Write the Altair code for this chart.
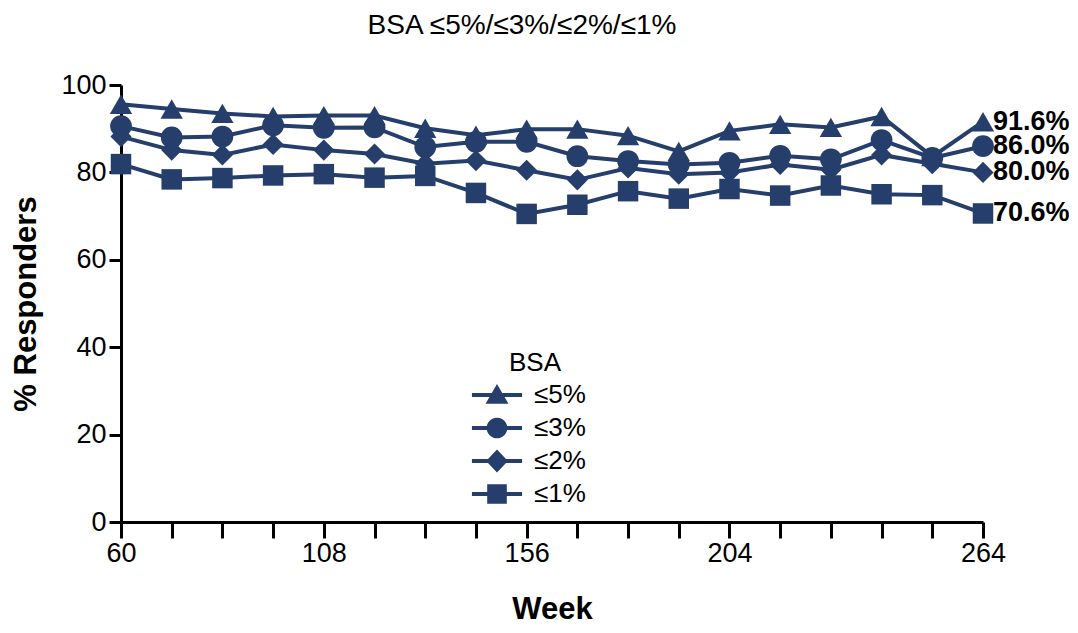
import altair as alt
import pandas as pd

weeks = [60, 72, 84, 96, 108, 120, 132, 144, 156, 168, 180, 192, 204, 216, 228, 240, 252, 264]
x_label_weeks = [60, 108, 156, 204, 264]
y_ticks = [0, 20, 40, 60, 80, 100]
series_names = ["≤5%", "≤3%", "≤2%", "≤1%"]

bsa5 = [95.6, 94.5, 93.5, 92.8, 93.0, 93.0, 90.1, 88.5, 89.9, 89.9, 88.4, 84.8, 89.5, 91.0, 90.3, 92.8, 83.6, 91.6]
bsa3 = [90.6, 88.0, 88.2, 90.8, 90.2, 90.3, 85.8, 87.0, 87.0, 83.7, 82.6, 81.8, 82.2, 83.8, 83.0, 87.4, 83.3, 86.0]
bsa2 = [88.2, 85.1, 84.0, 86.4, 85.1, 84.2, 82.0, 82.7, 80.5, 78.3, 81.0, 79.6, 80.0, 81.8, 80.6, 84.0, 82.0, 80.0]
bsa1 = [81.9, 78.4, 78.7, 79.3, 79.6, 78.8, 79.2, 75.3, 70.5, 72.6, 75.7, 74.0, 76.2, 74.7, 77.0, 75.0, 74.8, 70.6]
end_labels = ["91.6%", "86.0%", "80.0%", "70.6%"]

rows = []
for name, vals in zip(series_names, [bsa5, bsa3, bsa2, bsa1]):
    for w, v in zip(weeks, vals):
        rows.append({"week": w, "value": v, "series": name})
df = pd.DataFrame(rows)

end_df = pd.DataFrame({
    "week": [weeks[-1]] * 4,
    "value": [bsa5[-1], bsa3[-1], bsa2[-1], bsa1[-1]],
    "label": end_labels,
})

NAVY = "#253e6b"
FONT = "Liberation Sans"

label_expr = "indexof([" + ",".join(str(v) for v in x_label_weeks) + "], datum.value) >= 0 ? datum.label : ''"

x_enc = alt.X(
    "week:Q",
    scale=alt.Scale(domain=[60, 264], nice=False, zero=False),
    axis=alt.Axis(
        values=weeks, labelExpr=label_expr, title="Week", grid=False,
        tickSize=16, labelPadding=2, labelFlush=False, labelOverlap=False,
        titlePadding=28,
    ),
)
y_enc = alt.Y(
    "value:Q",
    scale=alt.Scale(domain=[0, 100], nice=False),
    axis=alt.Axis(
        values=y_ticks, title="% Responders", grid=False,
        tickSize=12, labelPadding=3, titlePadding=18,
    ),
)

lines = alt.Chart(df).mark_line(color=NAVY, strokeWidth=4).encode(
    x=x_enc, y=y_enc, detail="series:N"
)

points = alt.Chart(df).mark_point(filled=True, color=NAVY, opacity=1).encode(
    x=x_enc, y=y_enc,
    shape=alt.Shape("series:N", scale=alt.Scale(domain=series_names,
                    range=["triangle-up", "circle", "diamond", "square"]), legend=None),
    size=alt.Size("series:N", scale=alt.Scale(domain=series_names,
                  range=[500, 420, 470, 400]), legend=None),
)

legend_paths = [
    "M-2.3,-0.18H2.3V0.18H-2.3Z M0,-1L1.05,0.8L-1.05,0.8Z",
    "M-2.3,-0.18H2.3V0.18H-2.3Z M-0.95,0A0.95,0.95,0,1,1,0.95,0A0.95,0.95,0,1,1,-0.95,0Z",
    "M-2.3,-0.18H2.3V0.18H-2.3Z M0,-1.05L1,0L0,1.05L-1,0Z",
    "M-2.3,-0.18H2.3V0.18H-2.3Z M-0.9,-0.9H0.9V0.9H-0.9Z",
]

legend_layer = alt.Chart(df).transform_filter("false").mark_point(
    filled=True, color=NAVY, opacity=1, size=475
).encode(
    x=x_enc, y=y_enc,
    shape=alt.Shape(
        "series:N",
        scale=alt.Scale(domain=series_names, range=legend_paths),
        legend=alt.Legend(
            title="BSA", orient="none", legendX=363, legendY=265,
            symbolFillColor=NAVY, symbolStrokeColor=NAVY, symbolStrokeWidth=0,
            symbolOpacity=1, symbolSize=475,
            labelFont=FONT, labelFontSize=26, labelColor="black", labelOffset=24,
            titleFont=FONT, titleFontSize=26, titleFontWeight="normal", titleColor="black",
            titleAnchor="middle", titlePadding=6, rowPadding=7, padding=0,
        ),
    ),
)

texts = alt.Chart(end_df).mark_text(
    align="left", baseline="middle", dx=10, font=FONT, fontSize=27,
    fontWeight="bold", color="black"
).encode(x=x_enc, y=y_enc, text="label:N")

chart = alt.layer(lines, points, legend_layer, texts).resolve_scale(
    shape="independent", size="independent"
).properties(
    width=862,
    height=437,
    autosize=alt.AutoSizeParams(type="none"),
    padding={"left": 113, "top": 77, "right": 86, "bottom": 103},
    title=alt.TitleParams(
        "BSA ≤5%/≤3%/≤2%/≤1%", font=FONT, fontSize=28, fontWeight="normal",
        color="black", anchor="middle", offset=31, dx=-30,
    ),
).configure_view(stroke=None).configure_axis(
    domainColor="black", domainWidth=3, tickColor="black", tickWidth=3,
    labelFont=FONT, labelFontSize=27, labelColor="black",
    titleFont=FONT, titleFontSize=31, titleFontWeight="bold", titleColor="black",
)

chart.save("out.html", embed_options={"renderer": "svg", "actions": False})
